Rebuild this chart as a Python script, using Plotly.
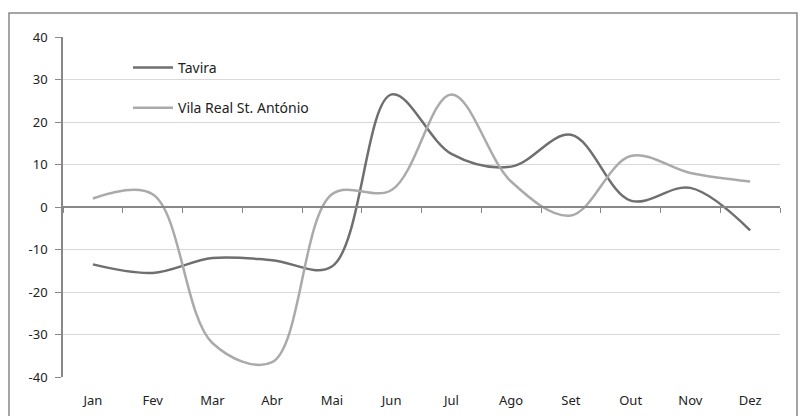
import plotly.graph_objects as go

months = ["Jan", "Fev", "Mar", "Abr", "Mai", "Jun", "Jul", "Ago", "Set", "Out", "Nov", "Dez"]
tavira = [-13.5, -15.5, -12, -12.5, -14, 26.5, 12.5, 9.5, 17, 1.5, 4.5, -5.5]
vila_real = [2, 3, -32, -36.5, 3, 4, 26.5, 6, -2, 12, 8, 6]
y_ticks = [-40, -30, -20, -10, 0, 10, 20, 30, 40]
y_tick_text = ["-40", "-30", "-20", "-10", "0", "10", "20", "30", "40"]

xpos = list(range(len(months)))
font_family = "Noto Sans"

fig = go.Figure()
fig.add_trace(go.Scatter(x=xpos, y=tavira, name="Tavira", mode="lines",
                         line=dict(color="#6f6f6f", width=2.5, shape="spline", smoothing=1.0),
                         legendgroup="a"))
fig.add_trace(go.Scatter(x=xpos, y=vila_real, name="Vila Real St. António", mode="lines",
                         line=dict(color="#aaaaaa", width=2.5, shape="spline", smoothing=1.0),
                         legendgroup="b"))

# invisible trace on xaxis2 to activate the zero-line category axis
fig.add_trace(go.Scatter(x=[-0.5], y=[0], xaxis="x2", mode="markers",
                         marker=dict(opacity=0), showlegend=False, hoverinfo="skip"))

L, R, T, B = 63, 20, 37, 39
W, H = 800, 416
pw, ph = W - L - R, H - T - B

fig.update_layout(
    width=W, height=H,
    margin=dict(l=L, r=R, t=T, b=B, autoexpand=False),
    paper_bgcolor="white", plot_bgcolor="white",
    font=dict(family=font_family, size=12, color="#222"),
    showlegend=True,
    legend=dict(x=(128 - L) / pw, y=(H - B - 52) / ph, xanchor="left", yanchor="top",
                bgcolor="rgba(0,0,0,0)", font=dict(size=14, color="#222"),
                tracegroupgap=19, itemwidth=40),
    xaxis=dict(range=[-0.5, 11.5], tickvals=xpos, ticktext=months, showgrid=False,
               zeroline=False, showline=False, ticks="outside", ticklen=11,
               tickcolor="rgba(0,0,0,0)", tickfont=dict(size=13, color="#222"),
               automargin=False),
    xaxis2=dict(range=[-0.5, 11.5], overlaying="x", anchor="free", position=0.5,
                tickvals=[i - 0.5 for i in range(13)], showticklabels=False,
                ticks="outside", ticklen=5, tickcolor="#888", showline=True,
                linecolor="#888", linewidth=1.5, showgrid=False, zeroline=False,
                automargin=False),
    yaxis=dict(range=[-40, 40], tickvals=y_ticks, ticktext=y_tick_text, showgrid=True,
               gridcolor="#d9d9d9", gridwidth=1, zeroline=False, showline=True,
               linecolor="#888", linewidth=1.5, ticks="outside", ticklen=6,
               tickcolor="#888", ticklabelstandoff=5,
               tickfont=dict(size=13, color="#222"), automargin=False),
)

fig.add_shape(type="rect", xref="paper", yref="paper",
              x0=(9 - L) / pw, x1=(797 - L) / pw, y0=-0.3, y1=(H - B - 13) / ph,
              line=dict(color="#888", width=1.5), fillcolor="rgba(0,0,0,0)", layer="below")

fig.write_html("out.html")
